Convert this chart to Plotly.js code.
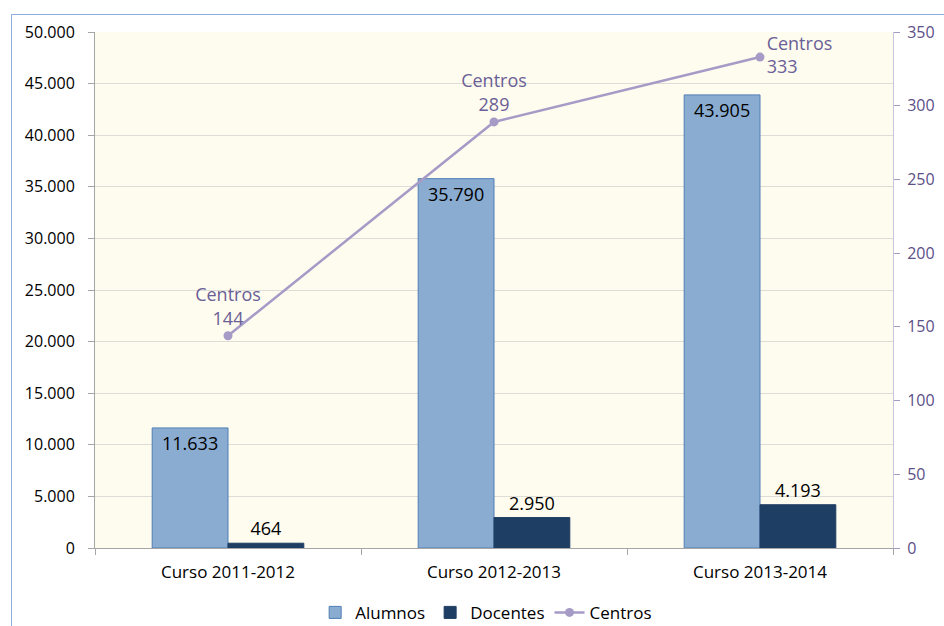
<!DOCTYPE html>
<html><head><meta charset="utf-8">
<script src="https://cdn.plot.ly/plotly-3.0.1.min.js"></script>
<style>
body{margin:0;padding:0;background:#fff;}
#wrap{position:relative;width:944px;height:626px;overflow:hidden;}
#frame{position:absolute;left:11px;top:14px;width:1000px;height:700px;border:1.5px solid #8db0e0;box-sizing:border-box;pointer-events:none;}
#chart{position:absolute;left:0;top:0;width:944px;height:626px;}
</style></head>
<body><div id="wrap"><div id="frame"></div><div id="chart"></div></div>
<script>
const categories = ["Curso 2011-2012", "Curso 2012-2013", "Curso 2013-2014"];
const alumnos = [11633, 35790, 43905];
const docentes = [464, 2950, 4193];
const centros = [144, 289, 333];
const centrosLabel = "Centros";

const fontFam = "Open Sans, DejaVu Sans, sans-serif";
const traces = [
  {type:"bar", name:"Alumnos", x:categories, y:alumnos,
   marker:{color:"#8aacd1", line:{color:"#4f7fb5", width:1}},
   texttemplate:"%{y:,.0f}", textposition:"inside", insidetextanchor:"end",
   textfont:{color:"#000", size:18, family:fontFam}, cliponaxis:false},
  {type:"bar", name:"Docentes", x:categories, y:docentes,
   marker:{color:"#1f3e63", line:{color:"#1f3e63", width:1}},
   texttemplate:"%{y:,.0f}", textposition:"outside",
   textfont:{color:"#000", size:18, family:fontFam}, cliponaxis:false},
  {type:"scatter", name:"Centros", x:categories, y:centros, yaxis:"y2",
   mode:"lines+markers+text",
   line:{color:"#a69bc6", width:2.5},
   marker:{color:"#a69bc6", size:9},
   text:centros.map(v => centrosLabel + "<br>" + v),
   textposition:["top center","top center","middle right"],
   textfont:{color:"#6a5f96", size:18, family:fontFam}, cliponaxis:false}
];
const layout = {
  width:944, height:626,
  margin:{l:95, r:51, t:32, b:78, autoexpand:false},
  paper_bgcolor:"rgba(0,0,0,0)",
  plot_bgcolor:"#fefbef",
  separators:",.",
  barmode:"group", bargap:0.43, bargroupgap:0,
  font:{family:fontFam, size:16, color:"#000"},
  showlegend:true,
  legend:{orientation:"h", x:0.515, xref:"container", xanchor:"center", y:0.021, yref:"container", yanchor:"middle",
          font:{size:17, color:"#000"}, traceorder:"normal", itemwidth:30},
  xaxis:{showline:true, linecolor:"#a6a6a6", linewidth:1, ticks:"outside", tickson:"boundaries",
         ticklen:6, tickcolor:"#a6a6a6", tickfont:{size:17}, showgrid:false, ticklabelstandoff:9},
  yaxis:{range:[0,50000], dtick:5000, tickformat:",.0f", showline:true, linecolor:"#a6a6a6",
         ticks:"outside", ticklen:6, tickcolor:"#a6a6a6", gridcolor:"#dedcd6", zeroline:false,
         tickfont:{size:16}, ticklabelstandoff:10},
  yaxis2:{range:[0,350], dtick:50, overlaying:"y", side:"right", showline:true,
          linecolor:"#c9c3dc", ticks:"outside", ticklen:6, tickcolor:"#a69bc6",
          showgrid:false, zeroline:false, tickfont:{size:16, color:"#5b5087"}, ticklabelstandoff:4}
};
Plotly.newPlot("chart", traces, layout, {displayModeBar:false, staticPlot:true});
</script></body></html>
